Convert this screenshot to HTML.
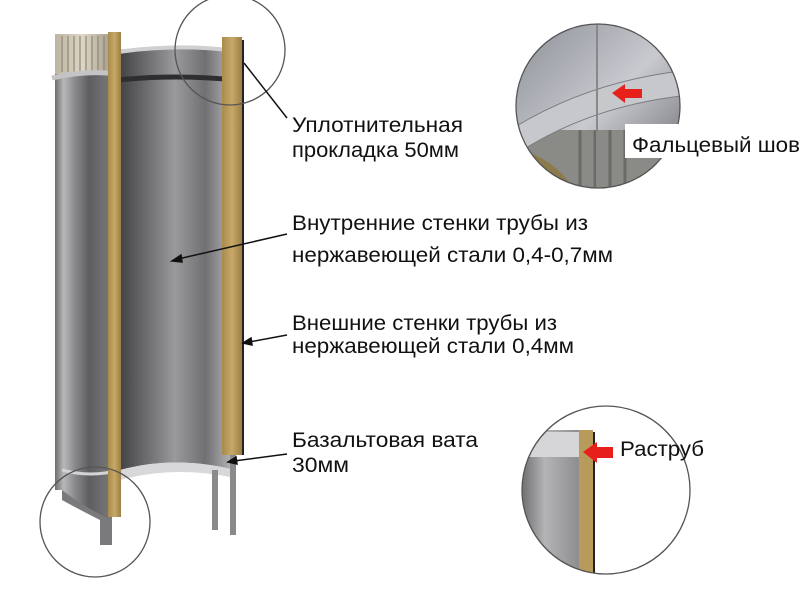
<!DOCTYPE html>
<html><head><meta charset="utf-8"><style>
html,body{margin:0;padding:0;background:#fff;}
svg{display:block}
text{font-family:"Liberation Sans",sans-serif;font-size:21px;fill:#111}
</style></head><body>
<svg width="806" height="605" viewBox="0 0 806 605" xmlns="http://www.w3.org/2000/svg">
<defs>
<linearGradient id="outer" x1="0" x2="1" y1="0" y2="0">
<stop offset="0" stop-color="#6e6e70"/><stop offset="0.15" stop-color="#b8b8ba"/><stop offset="0.35" stop-color="#8a8a8c"/><stop offset="0.6" stop-color="#5e5e60"/><stop offset="1" stop-color="#7a7a7c"/></linearGradient>
<linearGradient id="inner" x1="0" x2="1" y1="0" y2="0">
<stop offset="0" stop-color="#3c3c3e"/><stop offset="0.25" stop-color="#6a6a6c"/><stop offset="0.5" stop-color="#9a9a9c"/><stop offset="0.75" stop-color="#707072"/><stop offset="1" stop-color="#bcbcbe"/></linearGradient>
<linearGradient id="wool" x1="0" x2="1"><stop offset="0" stop-color="#a88a4c"/><stop offset="0.5" stop-color="#c8a868"/><stop offset="1" stop-color="#9c7f44"/></linearGradient>
<linearGradient id="flute" x1="0" x2="1"><stop offset="0" stop-color="#bdb4a0"/><stop offset="0.5" stop-color="#ddd6c6"/><stop offset="1" stop-color="#a89f8c"/></linearGradient>
<linearGradient id="zoom1" x1="0" x2="1" y1="0" y2="1"><stop offset="0" stop-color="#8a8c94"/><stop offset="0.5" stop-color="#c8cad0"/><stop offset="1" stop-color="#5a5a5e"/></linearGradient>
<linearGradient id="zoom2" x1="0" x2="1"><stop offset="0" stop-color="#6a6a6c"/><stop offset="0.4" stop-color="#b4b4b6"/><stop offset="1" stop-color="#8a8a8c"/></linearGradient>
<clipPath id="c1"><circle cx="598" cy="106" r="82"/></clipPath>
<clipPath id="c2"><circle cx="606" cy="490" r="84"/></clipPath>
</defs>

<path d="M115,50 Q175,44 235,50 L235,470 Q175,455 120,470 Z" fill="url(#inner)"/>
<path d="M120,470 Q175,455 235,470 L235,478 Q175,465 120,480 Z" fill="#d8d8da"/>
<path d="M118,80 Q175,74 235,80" stroke="#2e2e30" stroke-width="5" fill="none"/>
<path d="M118,52 Q175,44 228,50" stroke="#d0d0d2" stroke-width="4" fill="none"/>
<rect x="212" y="470" width="6" height="60" fill="#8a8a8c"/>
<rect x="230" y="455" width="6" height="80" fill="#8a8a8c"/>
<path d="M55,72 L112,72 L112,520 Q90,515 62,490 L55,490 Z" fill="url(#outer)"/>
<path d="M62,490 Q85,508 112,520 L112,545 L100,545 L100,520 Q80,510 62,500 Z" fill="#7a7a7c"/>
<rect x="55" y="34" width="55" height="40" fill="url(#flute)"/>
<g stroke="#8f8676" stroke-width="1.2">
<line x1="62" y1="36" x2="62" y2="72"/><line x1="68" y1="36" x2="68" y2="72"/><line x1="74" y1="36" x2="74" y2="72"/><line x1="80" y1="36" x2="80" y2="72"/><line x1="86" y1="36" x2="86" y2="72"/><line x1="92" y1="36" x2="92" y2="72"/><line x1="98" y1="36" x2="98" y2="72"/><line x1="104" y1="36" x2="104" y2="72"/></g>
<path d="M52,78 Q85,70 118,74" stroke="#c4c4c6" stroke-width="5" fill="none"/>
<path d="M62,470 Q90,478 120,470" stroke="#d4d4d6" stroke-width="3" fill="none"/>
<rect x="108" y="32" width="13" height="485" fill="url(#wool)"/>
<rect x="222" y="37" width="20" height="418" fill="url(#wool)"/>
<line x1="243" y1="40" x2="243" y2="455" stroke="#222" stroke-width="2"/>
<circle cx="230" cy="50" r="55" fill="none" stroke="#555" stroke-width="1.3"/>
<circle cx="95" cy="522" r="55" fill="none" stroke="#555" stroke-width="1.3"/>

<g stroke="#111" stroke-width="1.5" fill="#111">
<line x1="287" y1="118" x2="244" y2="63"/>
<line x1="287" y1="234" x2="178" y2="259"/><polygon points="172,261 181,255 182,262"/>
<line x1="287" y1="335" x2="249" y2="342"/><polygon points="243,343 251,338 252,345"/>
<line x1="287" y1="454" x2="234" y2="461"/><polygon points="228,462 236,457 237,464"/>
</g>

<text x="292" y="132" textLength="171" lengthAdjust="spacingAndGlyphs">Уплотнительная</text>
<text x="292" y="157" textLength="167" lengthAdjust="spacingAndGlyphs">прокладка 50мм</text>
<text x="292" y="230" textLength="296" lengthAdjust="spacingAndGlyphs">Внутренние стенки трубы из</text>
<text x="292" y="262" textLength="321" lengthAdjust="spacingAndGlyphs">нержавеющей стали 0,4-0,7мм</text>
<text x="292" y="330" textLength="265" lengthAdjust="spacingAndGlyphs">Внешние стенки трубы из</text>
<text x="292" y="353" textLength="282" lengthAdjust="spacingAndGlyphs">нержавеющей стали 0,4мм</text>
<text x="292" y="447" textLength="186" lengthAdjust="spacingAndGlyphs">Базальтовая вата</text>
<text x="292" y="472" textLength="57" lengthAdjust="spacingAndGlyphs">30мм</text>

<g clip-path="url(#c1)">
<rect x="510" y="20" width="180" height="180" fill="url(#zoom1)"/>
<rect x="520" y="130" width="160" height="70" fill="#8a8a86"/>
<g stroke="#6a6a66" stroke-width="3"><line x1="580" y1="130" x2="580" y2="200"/><line x1="595" y1="130" x2="595" y2="200"/><line x1="610" y1="130" x2="610" y2="200"/><line x1="625" y1="130" x2="625" y2="200"/></g>
<path d="M520,150 Q560,160 580,200 L520,200 Z" fill="#8c7a4a"/>
<path d="M510,130 Q590,80 690,70 L690,95 Q590,105 515,155 Z" fill="#c6c8cc" stroke="#7a7c80"/>
<line x1="597" y1="20" x2="597" y2="190" stroke="#888" stroke-width="2"/>
<polygon points="612,93 625,84 625,89 642,89 642,98 625,98 625,103" fill="#e8201c"/>
</g>
<circle cx="598" cy="106" r="82" fill="none" stroke="#555" stroke-width="1.3"/>
<rect x="625" y="124" width="181" height="34" fill="#fff"/>
<text x="632" y="152" textLength="168" lengthAdjust="spacingAndGlyphs">Фальцевый шов</text>

<g clip-path="url(#c2)">
<rect x="520" y="430" width="62" height="160" fill="url(#zoom2)"/>
<rect x="520" y="432" width="62" height="25" fill="#d6d6d8"/>
<rect x="579" y="430" width="14" height="150" fill="#b89a5a"/>
<line x1="594" y1="432" x2="594" y2="580" stroke="#222" stroke-width="2"/>
</g>
<polygon points="583,452 597,442 597,447 613,447 613,458 597,458 597,463" fill="#e8201c"/>
<circle cx="606" cy="490" r="84" fill="none" stroke="#555" stroke-width="1.3"/>
<text x="620" y="456" textLength="84" lengthAdjust="spacingAndGlyphs">Раструб</text>
</svg>
</body></html>
